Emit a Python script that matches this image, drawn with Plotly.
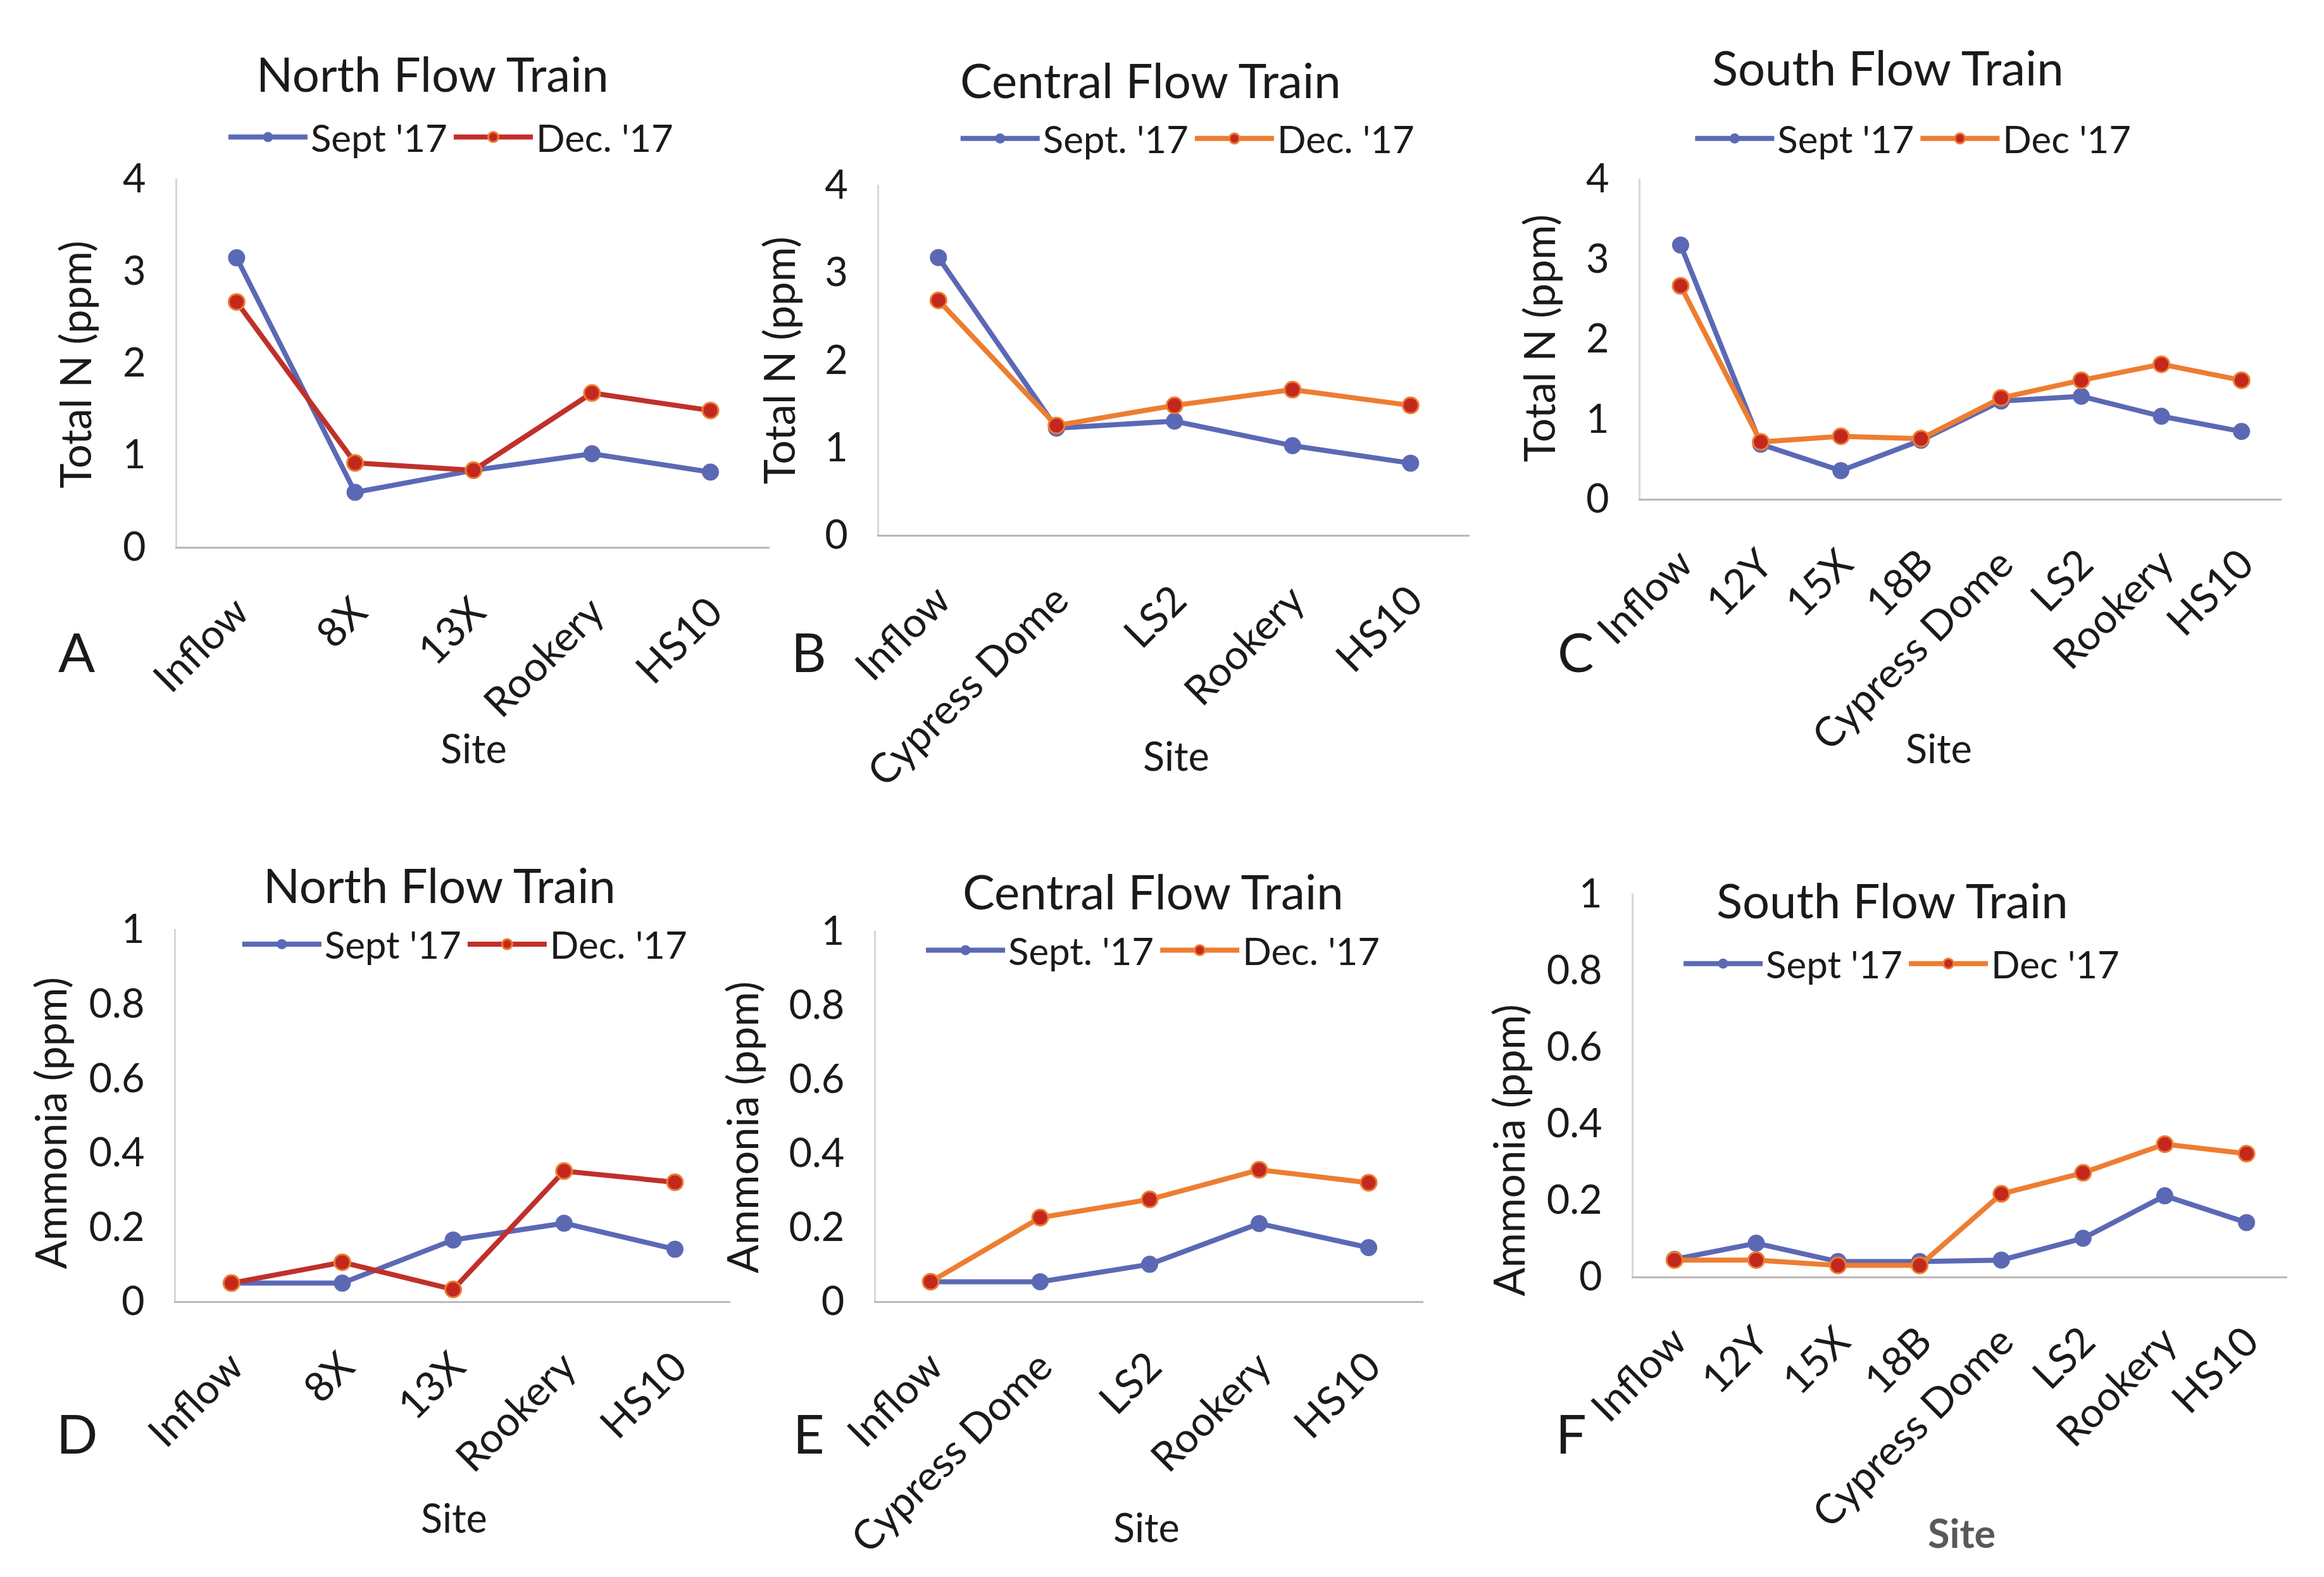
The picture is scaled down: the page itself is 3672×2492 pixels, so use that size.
import plotly.graph_objects as go

# ---------------- data ----------------
north_sites = ["Inflow", "8X", "13X", "Rookery", "HS10"]
central_sites = ["Inflow", "Cypress Dome", "LS2", "Rookery", "HS10"]
south_sites = ["Inflow", "12Y", "15X", "18B", "Cypress Dome", "LS2", "Rookery", "HS10"]

# Total N (ppm)
north_tn_sept = [3.14, 0.59, 0.83, 1.01, 0.81]
north_tn_dec = [2.66, 0.91, 0.83, 1.67, 1.48]
central_tn_sept = [3.17, 1.22, 1.30, 1.02, 0.82]
central_tn_dec = [2.68, 1.25, 1.48, 1.66, 1.48]
south_tn_sept = [3.17, 0.68, 0.35, 0.73, 1.22, 1.28, 1.03, 0.84]
south_tn_dec = [2.66, 0.71, 0.78, 0.75, 1.26, 1.48, 1.68, 1.48]

# Ammonia (ppm)
north_nh_sept = [0.049, 0.049, 0.165, 0.21, 0.14]
north_nh_dec = [0.049, 0.105, 0.032, 0.35, 0.32]
central_nh_sept = [0.053, 0.053, 0.10, 0.21, 0.145]
central_nh_dec = [0.053, 0.226, 0.275, 0.355, 0.32]
south_nh_sept = [0.044, 0.086, 0.038, 0.038, 0.042, 0.099, 0.21, 0.14]
south_nh_dec = [0.042, 0.042, 0.028, 0.028, 0.215, 0.27, 0.345, 0.32]

tn_ticks = [0, 1, 2, 3, 4]
nh_ticks = [0, 0.2, 0.4, 0.6, 0.8, 1]
nh_ticktext = ["0", "0.2", "0.4", "0.6", "0.8", "1"]

titles = ["North Flow Train", "Central Flow Train", "South Flow Train",
          "North Flow Train", "Central Flow Train", "South Flow Train"]
letters = ["A", "B", "C", "D", "E", "F"]
sept_names = ["Sept '17", "Sept. '17", "Sept '17", "Sept '17", "Sept. '17", "Sept '17"]
dec_names = ["Dec. '17", "Dec. '17", "Dec '17", "Dec. '17", "Dec. '17", "Dec '17"]
ytitles = ["Total N (ppm)"] * 3 + ["Ammonia (ppm)"] * 3

# ---------------- styling / layout ----------------
FONT = "Lato"
BLUE = "#5B69B5"
DARKRED = "#C0302A"
ORANGE = "#ED7D31"
MARKRED = "#C3281E"


def px(v):
    return v * 0.994 - 0.001


def py(v):
    return v + 0.006


panels = [
    dict(sites=north_sites, sept=north_tn_sept, dec=north_tn_dec, dec_line=DARKRED,
         xd=[0.0756, 0.332], yd=[0.6506, 0.8839], yr=[0, 4], ticks=tn_ticks, tt=None),
    dict(sites=central_sites, sept=central_tn_sept, dec=central_tn_dec, dec_line=ORANGE,
         xd=[0.3795, 0.635], yd=[0.658, 0.880], yr=[0, 4], ticks=tn_ticks, tt=None),
    dict(sites=south_sites, sept=south_tn_sept, dec=south_tn_dec, dec_line=ORANGE,
         xd=[0.709, 0.9865], yd=[0.681, 0.8839], yr=[0, 4], ticks=tn_ticks, tt=None),
    dict(sites=north_sites, sept=north_nh_sept, dec=north_nh_dec, dec_line=DARKRED,
         xd=[0.075, 0.315], yd=[0.172, 0.408], yr=[0, 1], ticks=nh_ticks, tt=nh_ticktext),
    dict(sites=central_sites, sept=central_nh_sept, dec=central_nh_dec, dec_line=ORANGE,
         xd=[0.378, 0.615], yd=[0.172, 0.407], yr=[0, 1], ticks=nh_ticks, tt=nh_ticktext),
    dict(sites=south_sites, sept=south_nh_sept, dec=south_nh_dec, dec_line=ORANGE,
         xd=[0.706, 0.989], yd=[0.188, 0.4306], yr=[0, 1], ticks=nh_ticks, tt=nh_ticktext),
]

title_pos = [(0.186, 0.951), (0.497, 0.947), (0.816, 0.9547),
             (0.189, 0.4363), (0.498, 0.4325), (0.818, 0.4268)]
legend_pos = [(0.194, 0.9103), (0.513, 0.9094), (0.827, 0.9094),
              (0.200, 0.3985), (0.498, 0.3947), (0.822, 0.3862)]
site_pos = [(0.204, 0.523), (0.508, 0.5184), (0.838, 0.523),
            (0.1955, 0.035), (0.495, 0.0293), (0.848, 0.0255)]
letter_pos = [(0.032, 0.5845), (0.349, 0.5845), (0.681, 0.5845),
              (0.032, 0.0888), (0.349, 0.0888), (0.679, 0.0888)]
ytitle_pos = [(0.0313, 0.766), (0.336, 0.7687), (0.6647, 0.783),
              (0.0204, 0.285), (0.3198, 0.2823), (0.6518, 0.268)]

fig = go.Figure()
annotations = []
layout = dict(
    width=3672, height=2492,
    paper_bgcolor="white", plot_bgcolor="white",
    margin=dict(l=0, r=0, t=0, b=0),
    font=dict(family=FONT, color="#1a1a1a"),
)

for i, p in enumerate(panels):
    k = i + 1
    xa = "x" if k == 1 else f"x{k}"
    ya = "y" if k == 1 else f"y{k}"
    lg = "legend" if k == 1 else f"legend{k}"
    xs = list(range(len(p["sites"])))
    fig.add_trace(go.Scatter(
        x=xs, y=p["sept"], xaxis=xa, yaxis=ya, legend=lg, name=sept_names[i],
        mode="lines+markers", line=dict(color=BLUE, width=8),
        marker=dict(color=BLUE, size=27, line=dict(color=BLUE, width=0)),
    ))
    fig.add_trace(go.Scatter(
        x=xs, y=p["dec"], xaxis=xa, yaxis=ya, legend=lg, name=dec_names[i],
        mode="lines+markers", line=dict(color=p["dec_line"], width=8),
        marker=dict(color=MARKRED, size=25, line=dict(color=ORANGE, width=3)),
    ))
    xkey = "xaxis" if k == 1 else f"xaxis{k}"
    ykey = "yaxis" if k == 1 else f"yaxis{k}"
    layout[xkey] = dict(
        domain=[px(v) for v in p["xd"]], anchor=ya, range=[-0.5, len(xs) - 0.5],
        tickmode="array", tickvals=xs, ticktext=p["sites"], tickangle=-45,
        tickfont=dict(family=FONT, size=65, color="#1a1a1a"),
        showgrid=False, zeroline=False, showline=True, linecolor="#bfb6b6",
        linewidth=3, ticks="", ticklabelstandoff=36, automargin=False, fixedrange=True,
    )
    ytd = dict(tickmode="array", tickvals=p["ticks"])
    if p["tt"] is not None:
        ytd["ticktext"] = p["tt"]
    layout[ykey] = dict(
        domain=[py(v) for v in p["yd"]], anchor=xa, range=p["yr"], **ytd,
        tickfont=dict(family=FONT, size=63, color="#1a1a1a"),
        showgrid=False, zeroline=False, showline=True, linecolor="#ddd5d5",
        linewidth=3, ticks="", ticklabelstandoff=34, automargin=False, fixedrange=True,
    )
    lx, ly = legend_pos[i]
    layout[lg] = dict(
        x=px(lx), y=py(ly), xanchor="center", yanchor="middle", orientation="h",
        font=dict(family=FONT, size=60, color="#1a1a1a"), bgcolor="rgba(0,0,0,0)",
        itemwidth=125, tracegroupgap=0,
    )
    tx, ty = title_pos[i]
    annotations.append(dict(text=titles[i], x=px(tx), y=py(ty), xref="paper", yref="paper",
                            showarrow=False, xanchor="center", yanchor="middle",
                            font=dict(family=FONT, size=76, color="#1a1a1a")))
    sx, sy = site_pos[i]
    if i == 5:
        site_txt = "<b>Site</b>"
        site_col = "#595959"
    else:
        site_txt = "Site"
        site_col = "#1a1a1a"
    annotations.append(dict(text=site_txt, x=px(sx), y=py(sy), xref="paper", yref="paper",
                            showarrow=False, xanchor="center", yanchor="middle",
                            font=dict(family=FONT, size=63, color=site_col)))
    ax_, ay_ = letter_pos[i]
    annotations.append(dict(text=letters[i], x=px(ax_), y=py(ay_), xref="paper", yref="paper",
                            showarrow=False, xanchor="center", yanchor="middle",
                            font=dict(family=FONT, size=86, color="#1a1a1a")))
    yx, yy = ytitle_pos[i]
    annotations.append(dict(text=ytitles[i], x=px(yx), y=py(yy), xref="paper", yref="paper",
                            showarrow=False, xanchor="center", yanchor="middle",
                            textangle=-90,
                            font=dict(family=FONT, size=67, color="#1a1a1a")))

layout["annotations"] = annotations
fig.update_layout(**layout)
fig.write_html("out.html")
